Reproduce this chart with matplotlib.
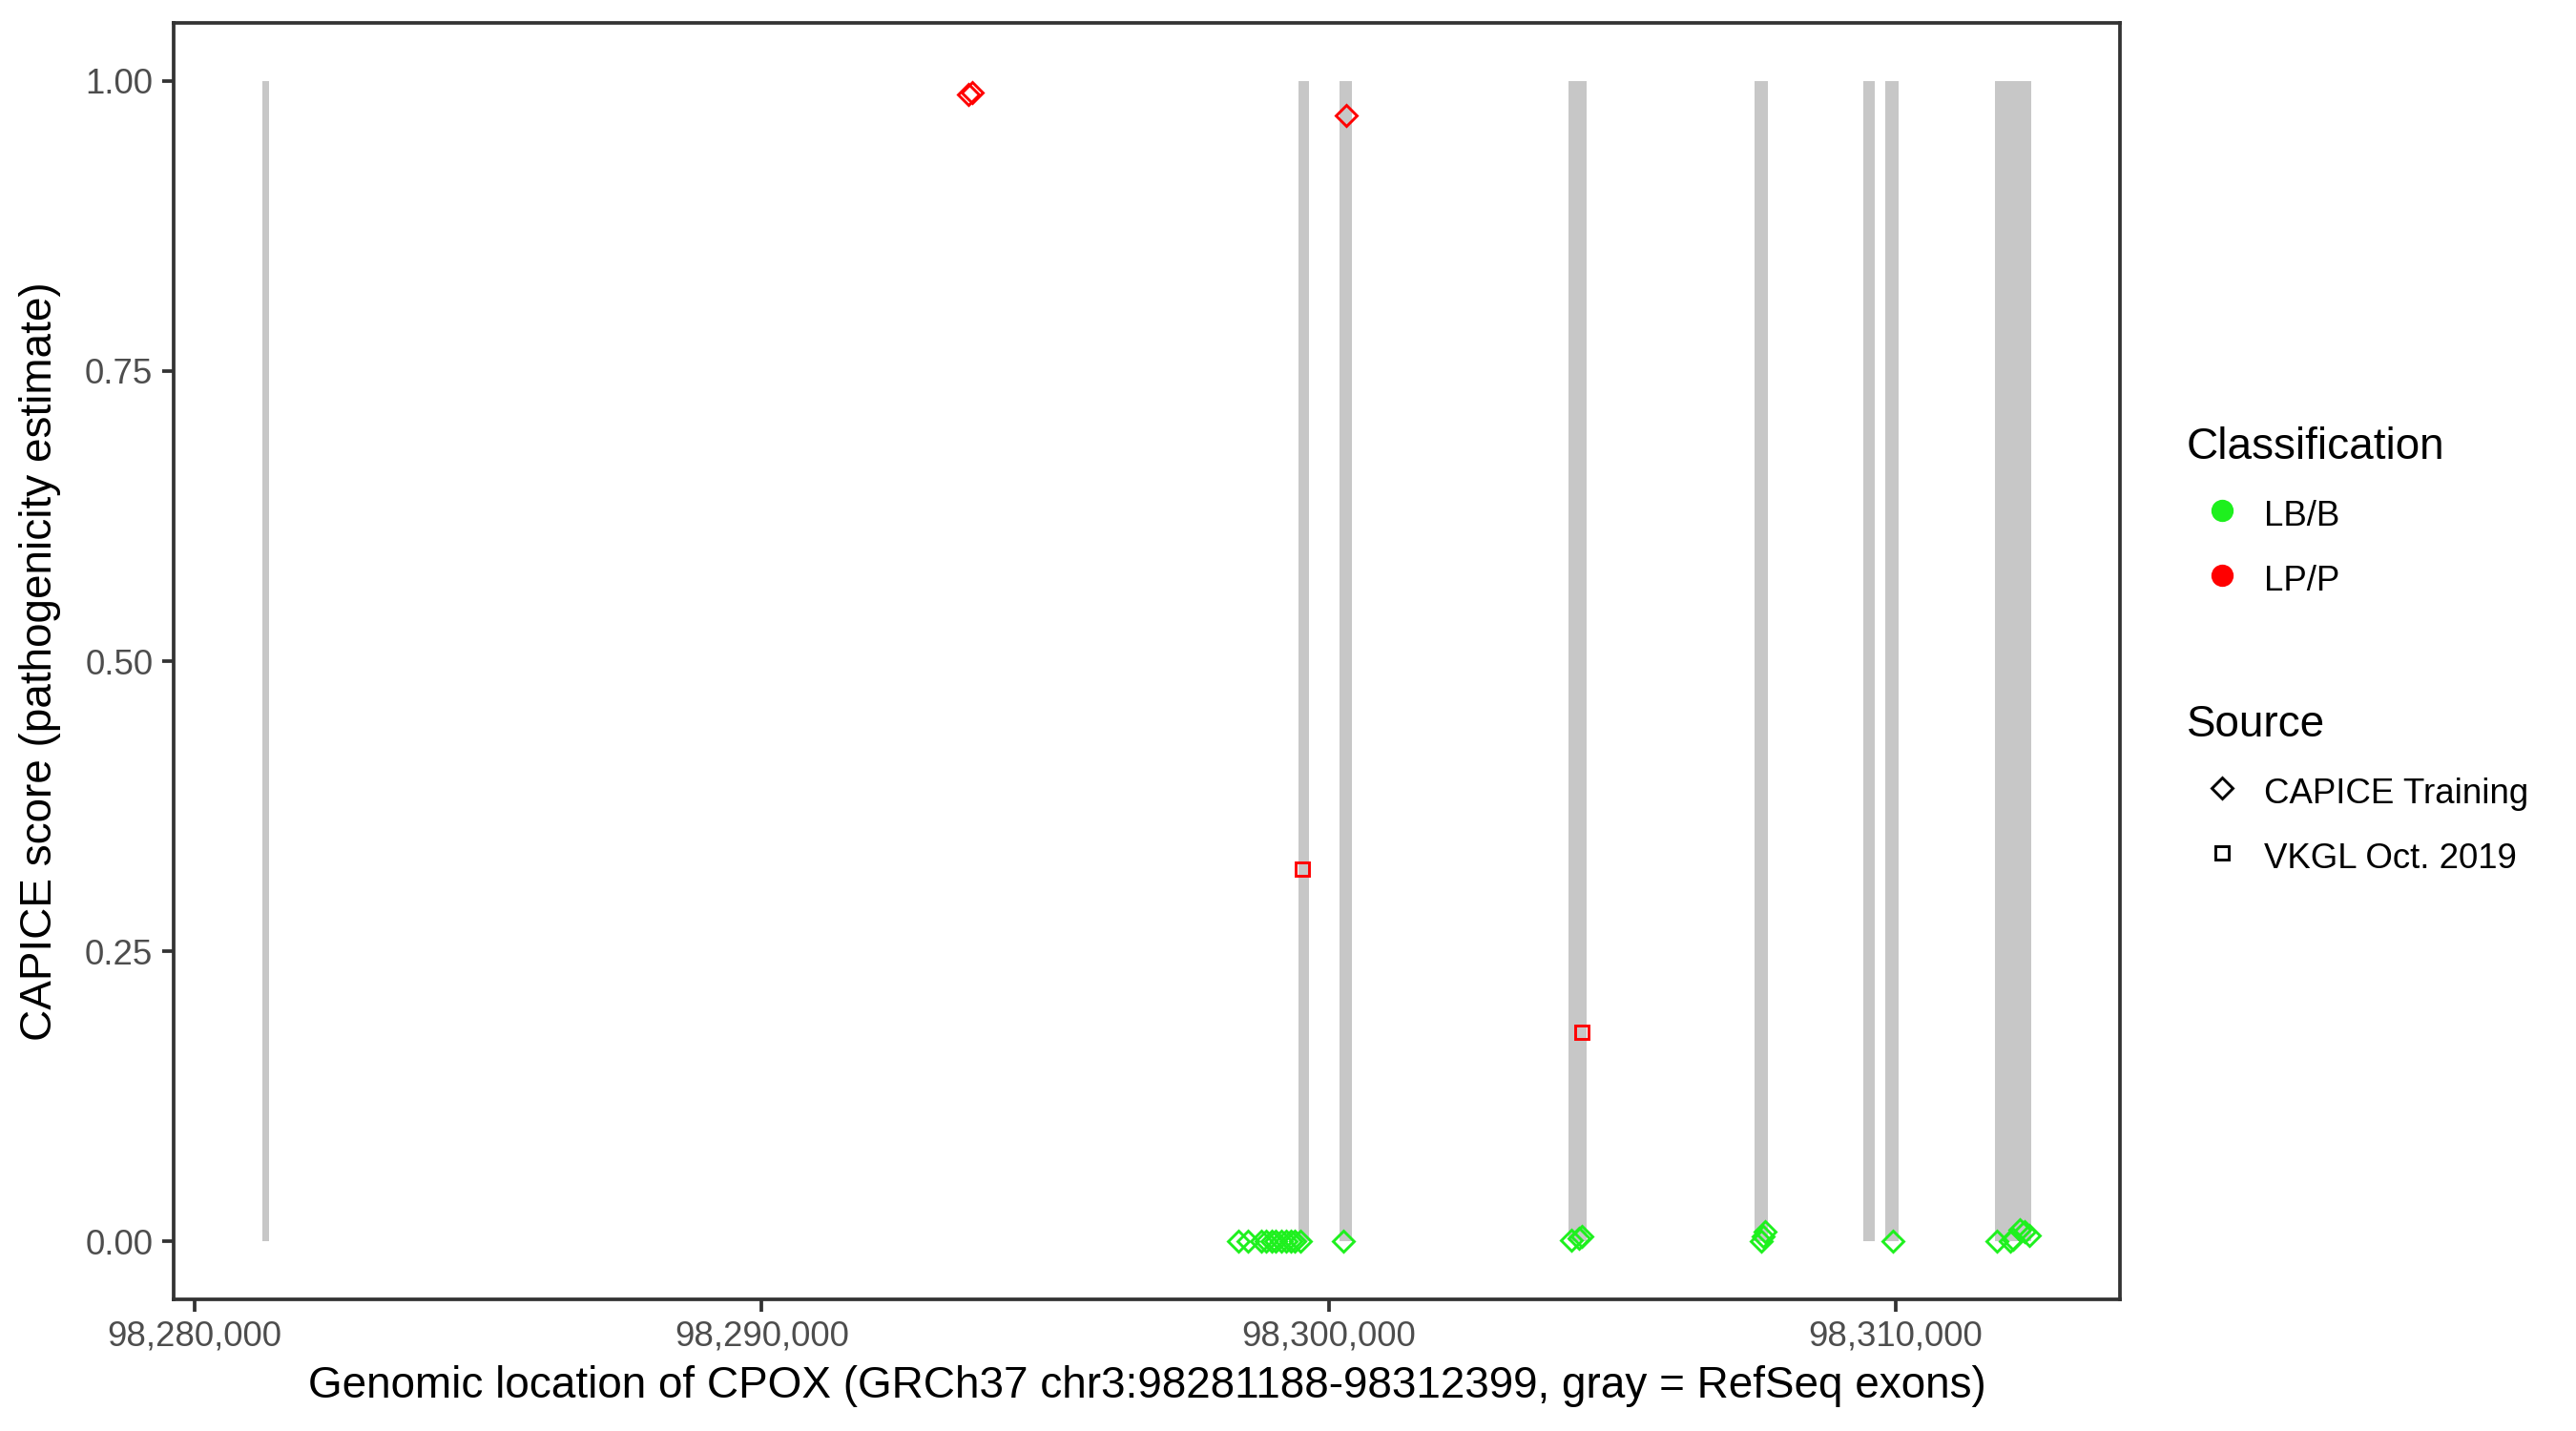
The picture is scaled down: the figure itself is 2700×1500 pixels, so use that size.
import matplotlib
matplotlib.use("Agg")
import matplotlib.pyplot as plt
from matplotlib.lines import Line2D
from matplotlib.ticker import FuncFormatter

plt.rcParams['font.family'] = ['Liberation Sans', 'DejaVu Sans']

# RefSeq exons of CPOX (GRCh37, chr3)
exon_start = [98281188, 98299469, 98300192, 98304231, 98307513, 98309432, 98309819, 98311754]
exon_end = [98281310, 98299654, 98300411, 98304551, 98307749, 98309634, 98310055, 98312399]

# CAPICE training variants
train_pos = [98293646, 98293713, 98300310,
             98298408, 98298577, 98298813, 98298897, 98298998, 98299065, 98299166,
             98299250, 98299334, 98299402, 98299503, 98300260,
             98304282, 98304417, 98304467,
             98307631, 98307665, 98307698, 98309954,
             98311788, 98312023, 98312074, 98312192, 98312276, 98312360]
train_score = [0.988, 0.990, 0.970,
               0.0, 0.0, 0.0, 0.0, 0.0, 0.0, 0.0,
               0.0, 0.0, 0.0, 0.0, 0.0,
               0.001, 0.003, 0.004,
               0.0, 0.004, 0.008, 0.0,
               0.0, 0.0, 0.002, 0.010, 0.008, 0.005]
train_class = ["LP/P", "LP/P", "LP/P"] + ["LB/B"] * 25

# VKGL Oct. 2019 variants
vkgl_pos = [98299536, 98304467]
vkgl_score = [0.321, 0.180]
vkgl_class = ["LP/P", "LP/P"]

colors = {"LB/B": "#1EF01E", "LP/P": "#FF0000"}

fig = plt.figure(figsize=(9, 5), dpi=300)
ax = fig.add_axes([182 / 2700, 1 - 1362 / 1500, 2040 / 2700, 1338 / 1500])

# exons as gray bars from 0 to 1
ax.bar(exon_start, [1] * len(exon_start),
       width=[e - s for s, e in zip(exon_start, exon_end)],
       bottom=0, align='edge', color='#C7C7C7', linewidth=0, zorder=1)

for cls in ["LB/B", "LP/P"]:
    xs = [p for p, c in zip(train_pos, train_class) if c == cls]
    ys = [s for s, c in zip(train_score, train_class) if c == cls]
    ax.plot(xs, ys, linestyle='', marker='D', ms=3.6, mfc='none',
            mec=colors[cls], mew=0.7, zorder=3)
    xs = [p for p, c in zip(vkgl_pos, vkgl_class) if c == cls]
    ys = [s for s, c in zip(vkgl_score, vkgl_class) if c == cls]
    ax.plot(xs, ys, linestyle='', marker='s', ms=3.4, mfc='none',
            mec=colors[cls], mew=0.7, zorder=3)

ax.set_xlim(98279627, 98313960)
ax.set_ylim(-0.05, 1.05)
ax.set_xticks([98280000, 98290000, 98300000, 98310000])
ax.xaxis.set_major_formatter(FuncFormatter(lambda v, p: f"{int(v):,}"))
ax.set_yticks([0, 0.25, 0.5, 0.75, 1.0])
ax.yaxis.set_major_formatter(FuncFormatter(lambda v, p: f"{v:.2f}"))

for s in ax.spines.values():
    s.set_color('#333333')
    s.set_linewidth(0.9)
ax.tick_params(length=3, width=0.9, color='#333333', labelcolor='#4D4D4D',
               labelsize=8.8, pad=2.2)

ax.set_xlabel("Genomic location of CPOX (GRCh37 chr3:98281188-98312399, gray = RefSeq exons)",
              fontsize=11, labelpad=3)
ax.set_ylabel("CAPICE score (pathogenicity estimate)", fontsize=11, labelpad=6)

# legends
h_class = [Line2D([], [], linestyle='', marker='o', ms=4.6, color=colors[c]) for c in ["LB/B", "LP/P"]]
h_src = [Line2D([], [], linestyle='', marker='D', ms=3.8, mfc='none', mec='black', mew=0.7),
         Line2D([], [], linestyle='', marker='s', ms=3.5, mfc='none', mec='black', mew=0.7)]

leg_kw = dict(loc='upper left', frameon=False, fontsize=8.8, title_fontsize=11,
              alignment='left', borderpad=0, borderaxespad=0, handlelength=2.0,
              handletextpad=0.2, labelspacing=0.75, handleheight=1.33)
fig.legend(h_class, ["LB/B", "LP/P"], title="Classification",
           bbox_to_anchor=(2292 / 2700, 1 - 447 / 1500), **leg_kw)
fig.legend(h_src, ["CAPICE Training", "VKGL Oct. 2019"], title="Source",
           bbox_to_anchor=(2292 / 2700, 1 - 738 / 1500), **leg_kw)

fig.savefig("out.png", dpi=300)
